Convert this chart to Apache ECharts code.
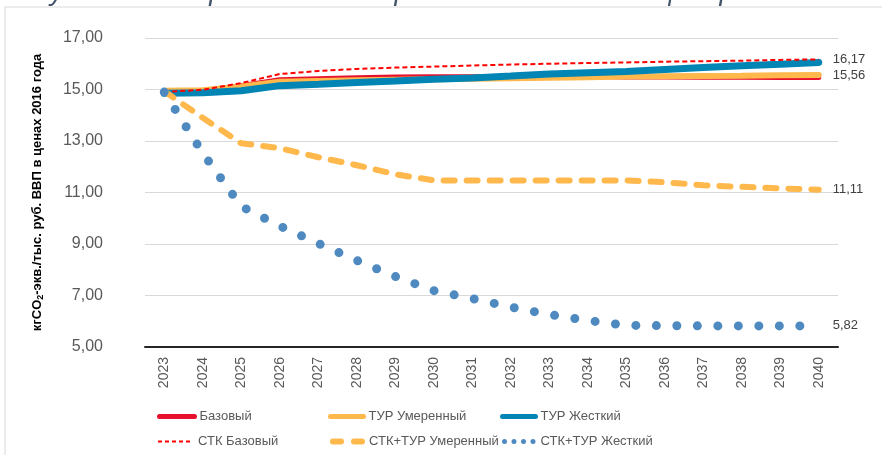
<!DOCTYPE html>
<html style="height: 100%">
  <head>
     <meta charset="utf-8">
  </head>
  <body style="height: 100%; margin: 0; background: #fff">
     <div id="container" style="width: 882px; height: 455px"></div>
     <script type="text/javascript" src="https://cdn.jsdelivr.net/npm/echarts@6/dist/echarts.min.js"></script>
     <script type="text/javascript">
var years = ['2023','2024','2025','2026','2027','2028','2029','2030','2031','2032','2033','2034','2035','2036','2037','2038','2039','2040'];
var bazovy = [14.90,14.95,15.15,15.38,15.42,15.46,15.49,15.50,15.50,15.50,15.50,15.50,15.49,15.49,15.48,15.48,15.47,15.47];
var turUmer = [14.95,14.97,15.12,15.30,15.33,15.36,15.38,15.40,15.42,15.44,15.46,15.48,15.50,15.51,15.52,15.53,15.55,15.56];
var turZhest = [14.85,14.87,14.95,15.15,15.20,15.27,15.33,15.40,15.45,15.52,15.60,15.65,15.70,15.78,15.85,15.92,15.98,16.05];
var stkBaz = [14.90,14.99,15.25,15.60,15.72,15.80,15.85,15.89,15.93,15.97,16.00,16.03,16.05,16.08,16.10,16.12,16.15,16.17];
var stkTurUmer = [14.93,13.90,12.91,12.72,12.37,12.06,11.71,11.47,11.47,11.47,11.47,11.47,11.47,11.40,11.28,11.22,11.16,11.11];
var stkTurZhest = [14.90,12.53,10.46,9.70,9.02,8.36,7.74,7.19,6.88,6.55,6.26,6.03,5.84,5.83,5.82,5.82,5.82,5.82];

var dom = document.getElementById("container");
var myChart = echarts.init(dom);

function fmt(v) {
  return Number(v).toFixed(2).replace('.', ',');
}
function endLbl(show) {
  return {
    show: show,
    distance: 14,
    formatter: function (p) { return fmt(p.value); },
    color: '#404040',
    fontSize: 13,
    fontFamily: 'Liberation Sans'
  };
}
var legendText = { color: '#595959', fontSize: 13, fontFamily: 'Liberation Sans' };
function leg(name, left, top, w, lineStyle) {
  return {
    left: left, top: top, itemWidth: w, itemHeight: 10, padding: 0,
    itemStyle: { opacity: 0 },
    textStyle: legendText, data: [{ name: name, lineStyle: lineStyle }]
  };
}

var option = {
  animation: false,
  graphic: [
    {
      type: 'text', left: 2, top: -22,
      style: {
        text: 'Рисунок 2. Углеродоемкость реального ВВП по сценариям',
        font: 'italic 28px "Liberation Sans"', fill: '#44546A'
      }
    },
    {
      type: 'rect', shape: { x: 5, y: 7, width: 900, height: 460 },
      style: { fill: 'none', stroke: '#d9d9d9', lineWidth: 1 }
    }
  ],
  grid: { left: 145, right: 44, top: 38, bottom: 108 },
  legend: [
    leg('Базовый', 157, 410, 35, { width: 5, cap: 'round' }),
    leg('ТУР Умеренный', 328, 410, 33, { width: 5, cap: 'round' }),
    leg('ТУР Жесткий', 500, 410, 33, { width: 5, cap: 'round' }),
    leg('СТК Базовый', 157, 435, 35, { type: [4, 3], width: 2 }),
    leg('СТК+ТУР Умеренный', 330, 435, 31, { type: [8, 13], width: 6, cap: 'round' }),
    leg('СТК+ТУР Жесткий', 502, 435, 31, { type: [0, 9.5], width: 5, cap: 'round' })
  ],
  xAxis: {
    type: 'category',
    data: years,
    axisLine: { lineStyle: { color: '#262626', width: 2 } },
    axisTick: { show: false },
    axisLabel: { rotate: 90, margin: 10, color: '#595959', fontSize: 14, fontFamily: 'Liberation Sans' }
  },
  yAxis: {
    type: 'value',
    min: 5, max: 17, interval: 2,
    name: 'кгCO{s|2}-экв./тыс. руб. ВВП в ценах 2016 года',
    nameLocation: 'middle',
    nameGap: 100,
    nameTextStyle: {
      color: '#000', fontSize: 13, fontWeight: 'bold', fontFamily: 'Liberation Sans',
      rich: { s: { fontSize: 9, fontWeight: 'bold', color: '#000', verticalAlign: 'bottom', padding: [6, 0, 0, 0] } }
    },
    axisLine: { show: false },
    axisTick: { show: false },
    splitLine: { lineStyle: { color: '#d9d9d9', width: 1 } },
    axisLabel: { margin: 42, color: '#595959', fontSize: 16, fontFamily: 'Liberation Sans', formatter: fmt }
  },
  series: [
    { name: 'Базовый', type: 'line', symbol: 'none', data: bazovy,
      lineStyle: { color: '#E8112D', width: 5, cap: 'round' }, itemStyle: { color: '#E8112D' } },
    { name: 'ТУР Умеренный', type: 'line', symbol: 'none', data: turUmer,
      lineStyle: { color: '#FFB84C', width: 6, cap: 'round' }, itemStyle: { color: '#FFB84C' },
      endLabel: endLbl(true) },
    { name: 'ТУР Жесткий', type: 'line', symbol: 'none', data: turZhest,
      lineStyle: { color: '#0085B5', width: 7, cap: 'round' }, itemStyle: { color: '#0085B5' } },
    { name: 'СТК Базовый', type: 'line', symbol: 'none', data: stkBaz,
      lineStyle: { color: '#FF0000', width: 2, type: [5, 3] }, itemStyle: { color: '#FF0000' },
      endLabel: endLbl(true) },
    { name: 'СТК+ТУР Умеренный', type: 'line', symbol: 'none', data: stkTurUmer,
      lineStyle: { color: '#FFB84C', width: 6, type: [11, 12], cap: 'round' }, itemStyle: { color: '#FFB84C' },
      endLabel: endLbl(true) },
    { name: 'СТК+ТУР Жесткий', type: 'line', symbol: 'none', data: stkTurZhest,
      lineStyle: { color: '#4E8AC0', width: 9, type: [0, 20.5], cap: 'round' }, itemStyle: { color: '#4E8AC0' },
      endLabel: endLbl(true) }
  ]
};
myChart.setOption(option, true);
     </script>
   </body>
</html>
